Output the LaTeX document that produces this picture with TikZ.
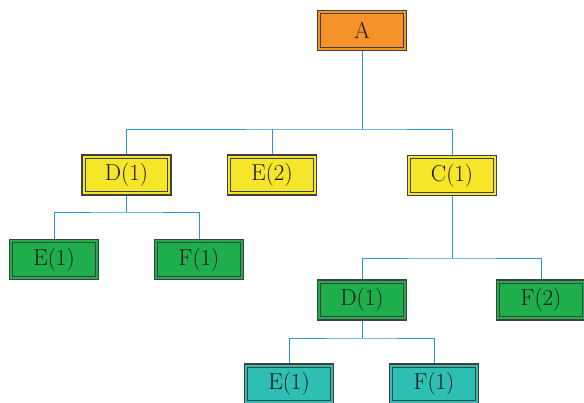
\documentclass[tikz,border=0pt]{standalone}
\begin{document}
\begin{tikzpicture}[x=1pt,y=-1pt,
  box/.style={draw=black!75, line width=1.2pt, minimum width=89, minimum height=40, inner sep=0pt, font=\fontsize{23}{25}\selectfont, text=black!90,
    path picture={\draw[black!75, line width=1pt] ([shift={(3.2pt,3.2pt)}]path picture bounding box.south west) rectangle ([shift={(-3.2pt,-3.2pt)}]path picture bounding box.north east);}},
  orangebox/.style={box, fill=boxorange},
  yellowbox/.style={box, fill=boxyellow},
  greenbox/.style={box, fill=boxgreen},
  tealbox/.style={box, fill=boxteal},
  link/.style={draw=lineblue, line width=1pt}]
\definecolor{boxorange}{RGB}{245,146,40}
\definecolor{boxyellow}{RGB}{246,230,42}
\definecolor{boxgreen}{RGB}{30,174,76}
\definecolor{boxteal}{RGB}{46,190,180}
\definecolor{lineblue}{RGB}{40,150,210}
\useasboundingbox (0,0) rectangle (584,402);
\clip (0,0) rectangle (584,402);
\node[orangebox] (A) at (362,30.5) {A};
\node[yellowbox] (D1) at (126.5,175) {D(1)};
\node[yellowbox] (E2) at (272,175) {E(2)};
\node[yellowbox] (C1) at (452,175.5) {C(1)};
\node[greenbox] (E1) at (54,259.5) {E(1)};
\node[greenbox] (F1) at (199,259.5) {F(1)};
\node[greenbox] (D1b) at (362,300) {D(1)};
\node[greenbox] (F2) at (541,300) {F(2)};
\node[tealbox] (E1b) at (289,384) {E(1)};
\node[tealbox] (F1b) at (434,384) {F(1)};
\coordinate (jA) at (362,129);
\coordinate (jD) at (126.5,212);
\coordinate (jC) at (452,258);
\coordinate (jDb) at (362,338);
\draw[link] (A.south) -- (jA);
\draw[link] (D1.north) |- (jA) -| (C1.north);
\draw[link] (E2.north) -- (E2.north |- jA);
\draw[link] (D1.south) -- (jD);
\draw[link] (E1.north) |- (jD) -| (F1.north);
\draw[link] (C1.south) -- (jC);
\draw[link] (D1b.north) |- (jC) -| (F2.north);
\draw[link] (D1b.south) -- (jDb);
\draw[link] (E1b.north) |- (jDb) -| (F1b.north);
\end{tikzpicture}
\end{document}
